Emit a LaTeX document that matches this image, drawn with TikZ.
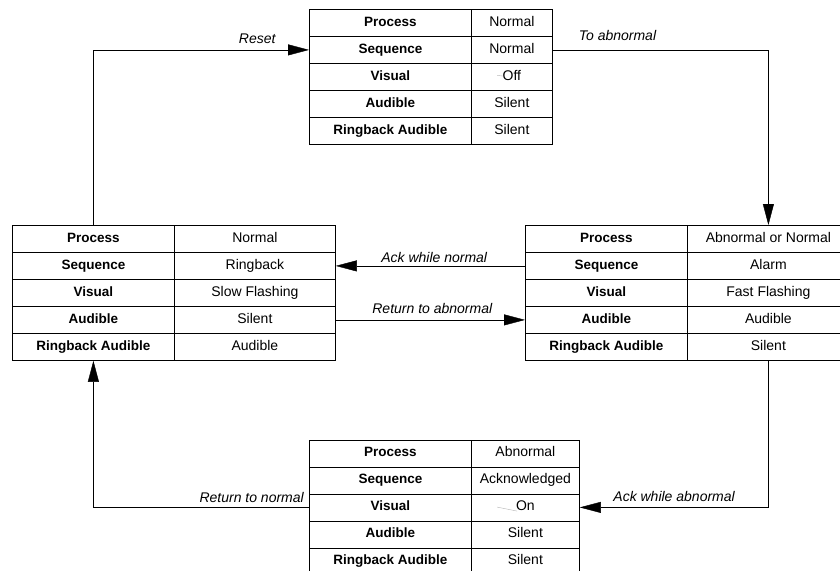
\documentclass[tikz,border=0pt]{standalone}
\usepackage{fontspec}
\setmainfont{Liberation Sans}
\usetikzlibrary{arrows.meta}

\begin{document}
\begin{tikzpicture}[x=1pt, y=-1pt, font=\fontsize{14}{16}\selectfont,
  cell/.style={draw, line width=0.8pt, minimum height=27pt, text height=10pt, text depth=3pt, anchor=north west, inner sep=0pt},
  keycell/.style={cell, minimum width=162pt, font=\fontsize{13.5}{16}\selectfont\bfseries},
  valcell/.style={cell, minimum width=#1},
  valcell/.default=162pt,
  lbl/.style={font=\fontsize{14}{16}\selectfont\itshape, inner sep=2pt},
  >={Triangle[length=21pt, width=11pt]}]
\useasboundingbox (0,0) rectangle (840,570);
\clip (0,0) rectangle (840,570);
% state tables
\foreach \k/\v [count=\i] in {Process/Normal, Sequence/Normal, Visual/Off, Audible/Silent, Ringback Audible/Silent} {
  \node[keycell] (top-k\i) at (309, {9+27*(\i-1)}) {\k};
  \node[valcell=81pt] (top-v\i) at (471, {9+27*(\i-1)}) {\v};
}
\foreach \k/\v [count=\i] in {Process/Normal, Sequence/Ringback, Visual/Slow Flashing, Audible/Silent, Ringback Audible/Audible} {
  \node[keycell] (left-k\i) at (12, {225+27*(\i-1)}) {\k};
  \node[valcell=161pt] (left-v\i) at (174, {225+27*(\i-1)}) {\v};
}
\foreach \k/\v [count=\i] in {Process/Abnormal or Normal, Sequence/Alarm, Visual/Fast Flashing, Audible/Audible, Ringback Audible/Silent} {
  \node[keycell] (right-k\i) at (525, {225+27*(\i-1)}) {\k};
  \node[valcell] (right-v\i) at (687, {225+27*(\i-1)}) {\v};
}
\foreach \k/\v [count=\i] in {Process/Abnormal, Sequence/Acknowledged, Visual/On, Audible/Silent, Ringback Audible/Silent} {
  \node[keycell] (bot-k\i) at (309, {439.5+27*(\i-1)}) {\k};
  \node[valcell=108pt] (bot-v\i) at (471, {439.5+27*(\i-1)}) {\v};
}
% stray strokes in the Off / On cells
\draw[gray!60, line width=0.4pt] ([shift={(-14.8,-1.5)}]top-v3.center) -- ++(6.3,0.7);
\draw[gray!60, line width=0.4pt] ([shift={(-28.3,-0.3)}]bot-v3.center) -- ++(20,4);
% transitions
\draw[->] (left-k1.north) |- node[lbl, pos=0.88, above=4.5pt] {Reset} (top-k2.west);
\draw[->] (top-v2.east) -| node[lbl, pos=0.15, above=7.5pt] {To abnormal} (right-v1.north);
\draw[->] (right-k2.west) -- node[lbl, pos=0.48, above=1pt] {Ack while normal} (left-v2.east);
\draw[->] (left-v4.east) -- node[lbl, pos=0.51, above=4pt] {Return to abnormal} (right-k4.west);
\draw[->] (right-v5.south) |- node[lbl, pos=0.75, above=4pt] {Ack while abnormal} (bot-v3.east);
\draw[->] (bot-k3.west) -| node[lbl, pos=0, above left=3pt] {Return to normal} (left-k5.south);
\end{tikzpicture}
\end{document}
